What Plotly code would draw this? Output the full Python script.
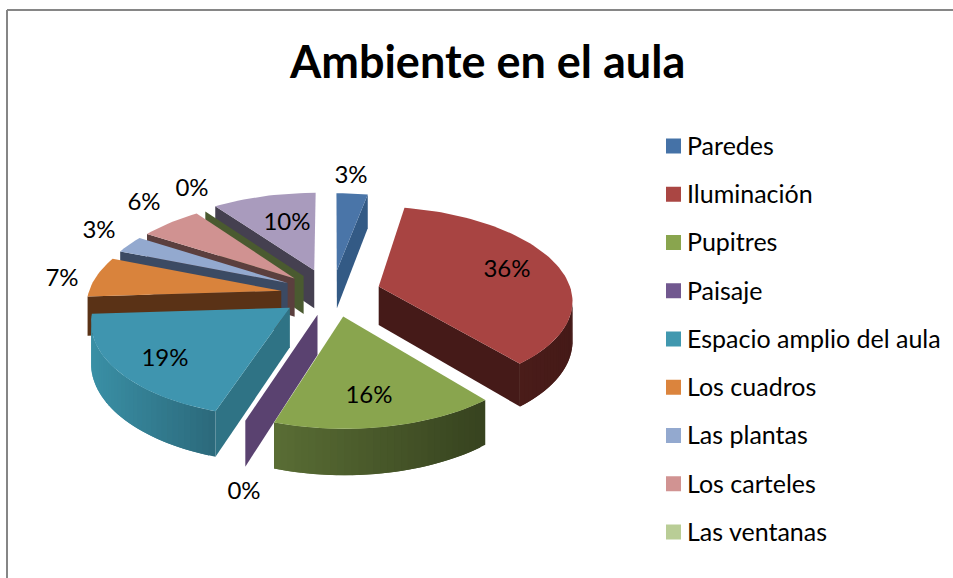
import math
import plotly.graph_objects as go

title = "Ambiente en el aula"
categories = ["Paredes", "Iluminación", "Pupitres", "Paisaje", "Espacio amplio del aula",
              "Los cuadros", "Las plantas", "Los carteles", "Las ventanas", ""]
values = [3, 36, 16, 0, 19, 7, 3, 6, 0, 10]

legend_colors = ["#4572A7", "#AA4643", "#89A54E", "#71588F", "#4198AF", "#DB843D", "#93A9CF", "#D19392", "#B9CD96", "#A99BBD"]
top_colors = ["#4A75A8", "#A84442", "#89A54E", "#71588F", "#3F95AF", "#D9833C", "#93A9CF", "#D09291", "#B9CD96", "#A99BBD"]
side_colors = ["#335A85", "#451A18", "#5A4270", "#5A4270", "#2F7385", "#5A3216", "#3B4A63", "#5B3F3E", "#4A5A30", "#454050"]
outer_left = ["#3A6290", "#4A1C19", "#5A6E35", "#5A4270", "#3A90A6", "#5A3216", "#3B4A63", "#5B3F3E", "#4A5A30", "#454050"]
outer_right = ["#335A85", "#451A18", "#37431F", "#5A4270", "#2C6A7C", "#5A3216", "#3B4A63", "#5B3F3E", "#4A5A30", "#454050"]
explode = [0.22, 0.29, 0.22, 0.22, 0.22, 0.22, 0.22, 0.22, 0.22, 0.22]
nudge_x = [8, 0, 10, 6, -1, -2, 0, 0, 3, 2]
nudge_y = [-2, 1, 4, 3, 3, 2, 0, 0, 0, -3]
label_xy = [(351, 176.5), (507, 270.5), (369, 396.5), (244, 492.5), (165, 359.5), (62, 279.5), (99, 231.5), (144, 203.5), (192, 189.5), (287, 223.5)]
draw_order = [9, 0, 8, 7, 6, 5, 1, 4, 3, 2]

CX, CY, A, B, P, DEPTH = 325, 292, 193, 92, 0.13, 39


def project(u, v, low=False, shift=(0, 0)):
    k = 1 / (1 - P * v)
    return (CX + A * u * k + shift[0], CY + B * v * k + (DEPTH * k if low else 0) + shift[1])


def poly(pts, color):
    xs = [p[0] for p in pts] + [pts[0][0]]
    ys = [p[1] for p in pts] + [pts[0][1]]
    return go.Scatter(x=xs, y=ys, mode="lines", fill="toself", fillcolor=color,
                      line=dict(color=color, width=0), hoverinfo="skip")


def mix(c1, c2, t):
    a = [int(c1[i:i + 2], 16) for i in (1, 3, 5)]
    b = [int(c2[i:i + 2], 16) for i in (1, 3, 5)]
    return "rgb(%d,%d,%d)" % tuple(round(a[i] + (b[i] - a[i]) * t) for i in range(3))


fig = go.Figure()
total = sum(values)
bounds = [0]
for val in values:
    bounds.append(bounds[-1] + val / total * 2 * math.pi)

for i in draw_order:
    t1, t2 = bounds[i], bounds[i + 1]
    mid = (t1 + t2) / 2
    au, av = explode[i] * math.sin(mid), -explode[i] * math.cos(mid)
    n = max(1, int((t2 - t1) / math.radians(1.8)))
    rim = []
    for j in range(n + 1):
        t = t1 + (t2 - t1) * j / n
        rim.append((au + math.sin(t), av - math.cos(t)))
    apex = (au, av)
    s = (nudge_x[i], nudge_y[i])

    def quad(uva, uvb):
        return [project(*uva, shift=s), project(*uvb, shift=s),
                project(*uvb, True, s), project(*uva, True, s)]

    for uva, uvb in ((apex, rim[0]), (rim[-1], apex)):
        if project(*uvb)[0] < project(*uva)[0] - 1e-9:
            fig.add_trace(poly(quad(uva, uvb), side_colors[i]))
    strips = [k for k in range(n) if project(*rim[k + 1])[0] < project(*rim[k])[0] - 1e-9]
    if strips:
        hi = project(*rim[strips[0]])[0]
        lo = project(*rim[strips[-1] + 1])[0]
        for k in strips:
            far = min(k + 2, strips[-1] + 1)
            tt = (project(*rim[k])[0] - lo) / max(hi - lo, 1)
            pts = [project(*rim[m], shift=s) for m in range(k, far + 1)]
            pts += [project(*rim[m], True, s) for m in range(far, k - 1, -1)]
            fig.add_trace(poly(pts, mix(outer_left[i], outer_right[i], tt)))
    if values[i] > 0:
        fig.add_trace(poly([project(*p, shift=s) for p in [apex] + rim], top_colors[i]))

fig.add_trace(go.Scatter(
    x=[p[0] for p in label_xy], y=[p[1] for p in label_xy],
    mode="text", text=["%d%%" % v for v in values],
    textposition="middle center", textfont=dict(family="Lato", size=24, color="#000000"),
    hoverinfo="skip"))

LEG_Y0, LEG_STEP = 146, 48.25
shown = [k for k, c in enumerate(categories) if c]
leg_y = [LEG_Y0 + LEG_STEP * k for k in shown]
fig.add_trace(go.Scatter(
    x=[673.5] * len(shown), y=leg_y, mode="markers",
    marker=dict(symbol="square", size=15, color=[legend_colors[k] for k in shown]),
    hoverinfo="skip"))
fig.add_trace(go.Scatter(
    x=[687] * len(shown), y=[v + 2.5 for v in leg_y], mode="text", text=[categories[k] for k in shown],
    textposition="middle right", textfont=dict(family="Lato", size=25, color="#000000"),
    hoverinfo="skip"))

fig.add_annotation(x=487, y=61, xref="x", yref="y", text="<b>%s</b>" % title, showarrow=False,
                   font=dict(family="Lato", size=45, color="#000000"))
line = dict(color="#868686", width=2)
fig.add_shape(type="line", x0=7, x1=953, y0=10, y1=10, xref="x", yref="y", line=line)
fig.add_shape(type="line", x0=7, x1=7, y0=10, y1=578, xref="x", yref="y", line=line)

fig.update_layout(
    width=953, height=578, margin=dict(l=0, r=0, t=0, b=0), showlegend=False,
    paper_bgcolor="white", plot_bgcolor="white",
    xaxis=dict(range=[0, 953], visible=False, fixedrange=True),
    yaxis=dict(range=[578, 0], visible=False, fixedrange=True),
)
fig.write_html("out.html", config={"displayModeBar": False},
               post_script="document.body.style.margin='0';document.body.style.overflow='hidden';")
